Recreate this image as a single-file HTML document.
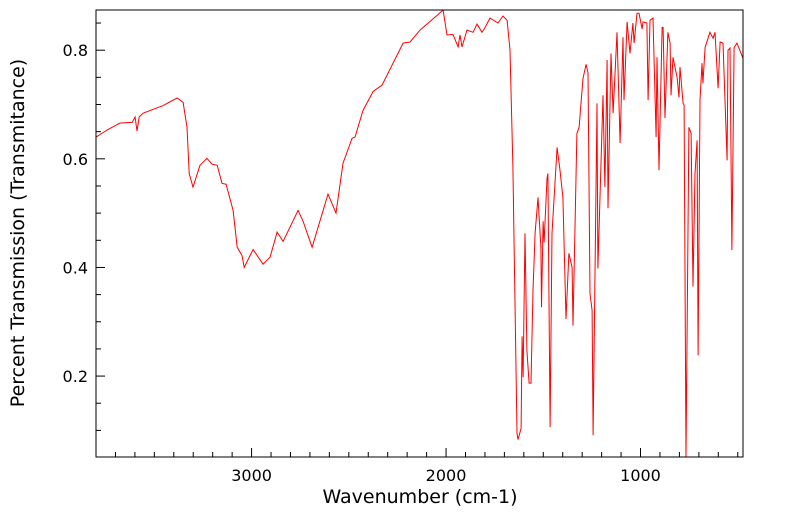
<!DOCTYPE html>
<html><head><meta charset="utf-8"><style>
body{margin:0;background:#fff;}
svg{display:block;font-family:"DejaVu Sans","Liberation Sans",sans-serif;}
</style></head><body>
<svg id="chart" width="799" height="516"></svg>
<script>
const wavenumbers=[3800,3743,3676,3614,3599,3589,3578,3558,3455,3383,3352,3332,3321,3301,3265,3229,3203,3177,3152,3131,3095,3074,3049,3038,2992,2941,2905,2869,2838,2761,2735,2689,2607,2566,2530,2483,2468,2427,2375,2329,2221,2185,2134,2046,2015,1995,1964,1938,1928,1918,1892,1861,1841,1815,1800,1774,1733,1707,1686,1671,1656,1635,1630,1614,1609,1604,1594,1584,1573,1563,1553,1542,1527,1512,1509,1501,1496,1481,1476,1465,1455,1429,1414,1399,1383,1368,1352,1347,1327,1316,1296,1280,1270,1260,1249,1244,1224,1219,1193,1183,1172,1167,1152,1141,1121,1105,1090,1085,1069,1054,1039,1033,1018,1008,992,987,967,961,951,936,920,915,905,889,884,874,859,848,843,833,812,802,797,781,776,766,751,740,730,720,709,704,694,684,679,668,643,627,617,601,591,576,555,550,540,530,519,504,473];
const transmittance=[.640,.653,.666,.667,.677,.651,.677,.684,.698,.712,.704,.658,.573,.548,.588,.601,.590,.588,.555,.553,.505,.437,.422,.400,.433,.406,.419,.465,.448,.505,.485,.437,.535,.500,.592,.638,.640,.689,.724,.736,.813,.815,.837,.864,.874,.828,.829,.806,.828,.806,.837,.833,.848,.833,.841,.859,.850,.863,.855,.800,.585,.095,.083,.104,.273,.198,.463,.247,.187,.187,.358,.463,.529,.437,.327,.485,.446,.564,.573,.106,.463,.621,.579,.529,.305,.426,.400,.293,.647,.658,.748,.774,.758,.352,.321,.091,.702,.398,.717,.548,.782,.509,.794,.684,.833,.629,.824,.708,.852,.794,.850,.813,.868,.868,.839,.852,.850,.708,.855,.859,.640,.787,.579,.842,.842,.675,.833,.813,.717,.787,.750,.713,.769,.702,.699,.050,.658,.647,.365,.573,.634,.238,.708,.776,.739,.805,.833,.822,.833,.730,.815,.813,.597,.800,.804,.432,.805,.813,.785];
const xTickLabels=[3000,2000,1000];
const yTickLabels=[0.2,0.4,0.6,0.8];

const L=96,R=743,T=10,B=457;
const xMax=3800,xMin=473,yMin=0.051,yMax=0.874;
const sx=w=>L+(xMax-w)/(xMax-xMin)*(R-L);
const sy=v=>B-(v-yMin)/(yMax-yMin)*(B-T);
const svg=document.getElementById('chart');
const NS='http://www.w3.org/2000/svg';
function mk(tag,attrs){const e=document.createElementNS(NS,tag);for(const k in attrs)e.setAttribute(k,attrs[k]);svg.appendChild(e);return e;}

const defs=mk('defs',{});
const cp=document.createElementNS(NS,'clipPath');cp.setAttribute('id','clip');
const cr=document.createElementNS(NS,'rect');cr.setAttribute('x',L);cr.setAttribute('y',T);cr.setAttribute('width',R-L);cr.setAttribute('height',B-T);
cp.appendChild(cr);defs.appendChild(cp);

let d='';
for(let i=0;i<wavenumbers.length;i++){d+=(i?'L':'M')+sx(wavenumbers[i]).toFixed(1)+','+sy(transmittance[i]).toFixed(1);}
const line=mk('path',{d:d,fill:'none',stroke:'#ff0000','stroke-width':1,'clip-path':'url(#clip)'});



const frame=mk('rect',{x:L,y:T,width:R-L,height:B-T,fill:'none',stroke:'#000','stroke-width':1});



for(let w=3700;w>=500;w-=100){
  const major=w%1000===0;
  const t=mk('line',{x1:sx(w),x2:sx(w),y1:B,y2:B-(major?9:5),stroke:'#000','stroke-width':1});
  
  
}
xTickLabels.forEach(v=>{
  const t=mk('text',{x:sx(v),y:B+24,'text-anchor':'middle','font-size':16,fill:'#000'});
  t.textContent=v;
  
  
});
for(let k=2;k<=17;k++){
  const v=k*0.05;if(v<yMin||v>yMax)continue;
  const major=k%4===0;
  const t=mk('line',{x1:L,x2:L+(major?9:5),y1:sy(v),y2:sy(v),stroke:'#000','stroke-width':1});
  
  
}
yTickLabels.forEach(v=>{
  const t=mk('text',{x:L-8,y:sy(v)+6,'text-anchor':'end','font-size':16,fill:'#000'});
  t.textContent=v.toFixed(1);
  
  
});
const xt=mk('text',{x:420,y:503,'text-anchor':'middle','font-size':19,fill:'#000'});
xt.textContent='Wavenumber (cm-1)';


const yt=mk('text',{x:0,y:0,'text-anchor':'middle','font-size':19,fill:'#000',transform:'translate(24,233) rotate(-90)'});
yt.textContent='Percent Transmission (Transmitance)';


</script>
</body></html>
